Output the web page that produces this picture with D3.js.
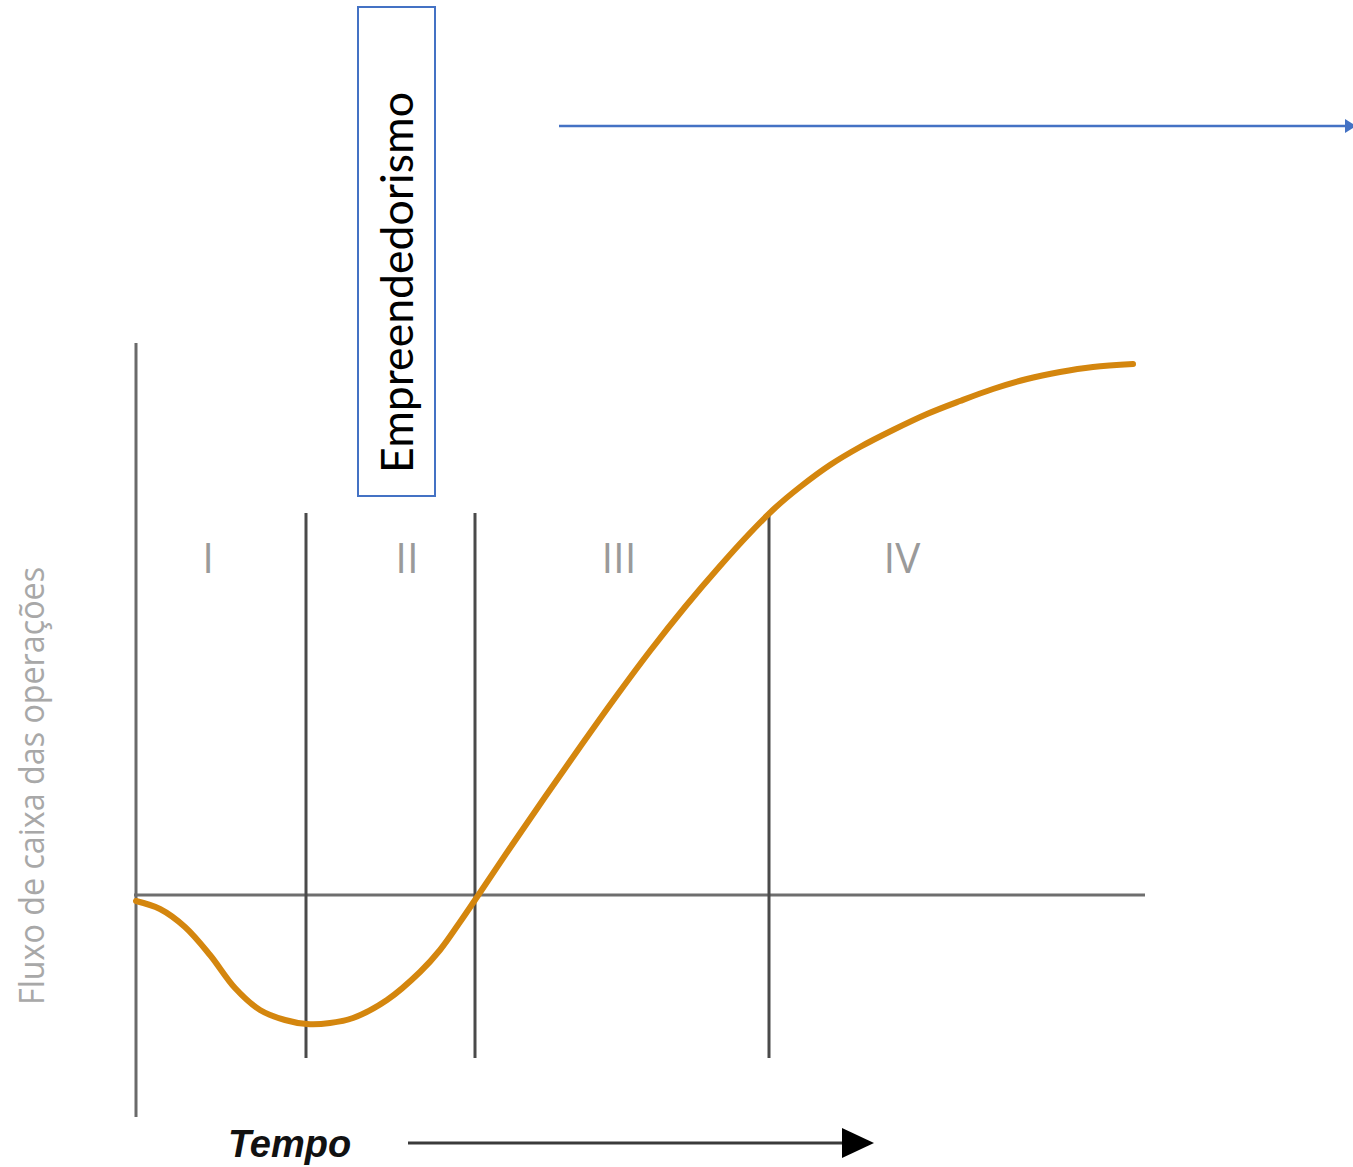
<!DOCTYPE html>
<html>
<head>
<meta charset="utf-8">
<script src="https://cdn.jsdelivr.net/npm/d3@7"></script>
<style>
  html, body { margin: 0; padding: 0; background: #fff; }
  svg { display: block; }
</style>
</head>
<body>
<script>
// ---- data ----
const timeValues     = [0, 2.4, 4.9, 7.4, 9.9, 12.4, 14.9, 17.1, 19.4, 21.7, 25.1, 28.4, 30.4, 32.4, 33.9, 37.4, 40.9, 44.4, 47.9, 51.4, 54.9, 58.4, 61.4, 63.9, 66.4, 69.4, 72.4, 75.7, 79.1, 82.4, 85.7, 89.1, 92.4, 95.7, 99.7];
const cashFlowValues = [-0.6, -1.4, -3.2, -6.0, -9.3, -11.5, -12.5, -12.9, -12.8, -12.3, -10.5, -7.7, -5.5, -2.7, -0.5, 4.7, 9.8, 14.8, 19.7, 24.4, 28.8, 32.9, 36.2, 38.7, 40.8, 43.0, 44.8, 46.5, 48.1, 49.4, 50.6, 51.6, 52.3, 52.8, 53.1];
const phaseLabels    = ["I", "II", "III", "IV"];
const phaseLabelPos  = [7.2, 27.1, 48.3, 76.6];
const phaseDividers  = [17, 33.9, 63.3];
const yAxisTitle = "Fluxo de caixa das operações";
const xAxisTitle = "Tempo";
const boxTitle   = "Empreendedorismo";

// ---- layout ----
const W = 1353, H = 1167;
const x = d3.scaleLinear().domain([0, 100]).range([136, 1136]);
const y = d3.scaleLinear().domain([-22.2, 55.2]).range([1117, 343]);

const svg = d3.select("body").append("svg")
  .attr("width", W).attr("height", H)
  .attr("viewBox", `0 0 ${W} ${H}`);
svg.append("rect").attr("width", W).attr("height", H).attr("fill", "#fff");

// vertical main axis
svg.append("line")
  .attr("x1", x(0)).attr("x2", x(0))
  .attr("y1", y(55.2)).attr("y2", y(-22.2))
  .attr("stroke", "#6a6a6a").attr("stroke-width", 3);

// zero line
svg.append("line")
  .attr("x1", x(-0.2)).attr("x2", x(100.9))
  .attr("y1", y(0)).attr("y2", y(0))
  .attr("stroke", "#6e6e6e").attr("stroke-width", 3);

// phase dividers
svg.selectAll("line.div").data(phaseDividers).join("line")
  .attr("class", "div")
  .attr("x1", d => x(d)).attr("x2", d => x(d))
  .attr("y1", y(38.2)).attr("y2", y(-16.3))
  .attr("stroke", "#4a4a4a").attr("stroke-width", 3);

// phase labels
svg.selectAll("text.phase").data(phaseLabels).join("text")
  .attr("class", "phase")
  .attr("x", (d, i) => x(phaseLabelPos[i]))
  .attr("y", y(32.2))
  .attr("text-anchor", "middle")
  .attr("font-family", "'Open Sans', sans-serif")
  .attr("font-weight", 400)
  .attr("font-size", 42)
  .attr("fill", "#9a9a9a")
  .text(d => d);

// curve
const pts = timeValues.map((t, i) => [t, cashFlowValues[i]]);
svg.append("path")
  .datum(pts)
  .attr("fill", "none")
  .attr("stroke", "#d4860e")
  .attr("stroke-width", 6)
  .attr("stroke-linecap", "round")
  .attr("d", d3.line().x(d => x(d[0])).y(d => y(d[1])).curve(d3.curveCatmullRom.alpha(0.5)));

// y axis title
svg.append("text")
  .attr("transform", `translate(44, ${y(10.9)}) rotate(-90)`)
  .attr("text-anchor", "middle")
  .attr("font-family", "'Open Sans', sans-serif")
  .attr("font-size", 34)
  .attr("fill", "#a8a8a8")
  .attr("textLength", 438)
  .attr("lengthAdjust", "spacingAndGlyphs")
  .text(yAxisTitle);

// Tempo label
svg.append("text")
  .attr("x", 228).attr("y", 1157)
  .attr("font-family", "'Liberation Sans', Arial, sans-serif")
  .attr("font-weight", "bold")
  .attr("font-style", "italic")
  .attr("font-size", 38)
  .attr("fill", "#111")
  .text(xAxisTitle);

// Tempo arrow
svg.append("line")
  .attr("x1", 408).attr("x2", 846).attr("y1", 1143).attr("y2", 1143)
  .attr("stroke", "#3a3a3a").attr("stroke-width", 3);
svg.append("path")
  .attr("d", "M842,1128 L874,1143 L842,1158 Z")
  .attr("fill", "#000");

// top blue arrow
svg.append("line")
  .attr("x1", 559).attr("x2", 1346).attr("y1", 126).attr("y2", 126)
  .attr("stroke", "#4472c4").attr("stroke-width", 2.5);
svg.append("path")
  .attr("d", "M1345,119 L1356,126 L1345,133 Z")
  .attr("fill", "#4472c4");

// Empreendedorismo box
svg.append("rect")
  .attr("x", 358).attr("y", 7).attr("width", 77).attr("height", 489)
  .attr("fill", "#fff").attr("stroke", "#4472c4").attr("stroke-width", 2);
svg.append("text")
  .attr("transform", `translate(413, 282.5) rotate(-90)`)
  .attr("text-anchor", "middle")
  .attr("font-family", "Lato, 'Open Sans', sans-serif")
  .attr("font-size", 44)
  .attr("fill", "#000")
  .attr("textLength", 381)
  .attr("lengthAdjust", "spacingAndGlyphs")
  .text(boxTitle);
</script>
</body>
</html>
